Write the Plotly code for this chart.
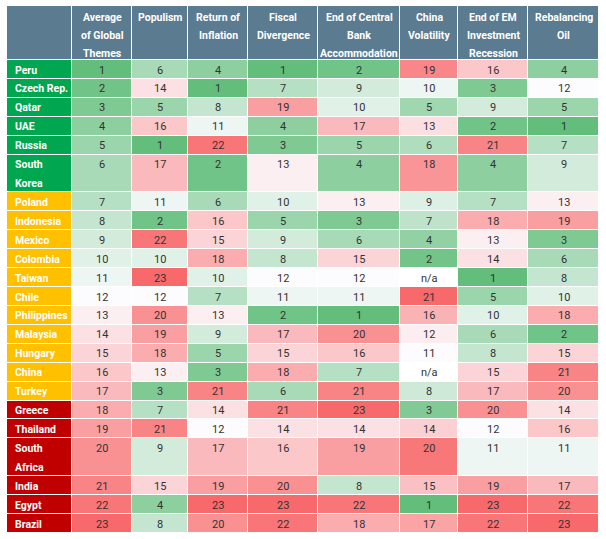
import plotly.graph_objects as go
import numpy as np

countries = ["Peru", "Czech Rep.", "Qatar", "UAE", "Russia", "South<br>Korea", "Poland",
             "Indonesia", "Mexico", "Colombia", "Taiwan", "Chile", "Philippines", "Malaysia",
             "Hungary", "China", "Turkey", "Greece", "Thailand", "South<br>Africa", "India",
             "Egypt", "Brazil"]
groups = [0] * 6 + [1] * 11 + [2] * 6

themes = ["Average<br>of Global<br>Themes", "Populism", "Return of<br>Inflation",
          "Fiscal<br>Divergence", "End of Central<br>Bank<br>Accommodation",
          "China<br>Volatility", "End of EM<br>Investment<br>Recession", "Rebalancing<br>Oil"]

average = [1, 2, 3, 4, 5, 6, 7, 8, 9, 10, 11, 12, 13, 14, 15, 16, 17, 18, 19, 20, 21, 22, 23]
populism = [6, 14, 5, 16, 1, 17, 11, 2, 22, 10, 23, 12, 20, 19, 18, 13, 3, 7, 21, 9, 15, 4, 8]
inflation = [4, 1, 8, 11, 22, 2, 6, 16, 15, 18, 10, 7, 13, 9, 5, 3, 21, 14, 12, 17, 19, 23, 20]
fiscal = [1, 7, 19, 4, 3, 13, 10, 5, 9, 8, 12, 11, 2, 17, 15, 18, 6, 21, 14, 16, 20, 23, 22]
central_bank = [2, 9, 10, 17, 5, 4, 13, 3, 6, 15, 12, 11, 1, 20, 16, 7, 21, 23, 14, 19, 8, 22, 18]
china_vol = [19, 10, 5, 13, 6, 18, 9, 7, 4, 2, None, 21, 16, 12, 11, None, 8, 3, 14, 20, 15, 1, 17]
em_invest = [16, 3, 9, 2, 21, 4, 7, 18, 13, 14, 1, 5, 10, 6, 8, 15, 17, 20, 12, 11, 19, 23, 22]
oil = [4, 12, 5, 1, 7, 9, 13, 19, 3, 6, 8, 10, 18, 2, 15, 21, 20, 14, 16, 11, 17, 22, 23]

columns = [average, populism, inflation, fiscal, central_bank, china_vol, em_invest, oil]

# ---- styling / geometry (pixels) ----
COL_W = [65, 60, 56, 60, 70, 82, 58, 70, 71]
HEADER_H = 54
UNIT_H = 18.92
HEADER_LINE = 18
FONT = "Roboto, Arial, sans-serif"
GROUP_COLORS = ["#00A650", "#FFC000", "#C00000"]
HEADER_COLOR = "#5B7B91"
LOW, MID, HIGH = "#63BE7B", "#FCFCFF", "#F8696B"

x_edges = list(np.concatenate([[0], np.cumsum(COL_W)]))
row_units = [c.count("<br>") + 1 for c in countries]
y_edges = [HEADER_H]
for u in row_units:
    y_edges.append(y_edges[-1] + u * UNIT_H)
total_h = y_edges[-1]
total_w = x_edges[-1]


def scaled(vals):
    v = [x for x in vals if x is not None]
    lo, md, hi = min(v), float(np.percentile(v, 50)), max(v)
    out = []
    for x in vals:
        if x is None:
            out.append(None)
        elif x <= md:
            out.append(-1 + (x - lo) / (md - lo))
        else:
            out.append((x - md) / (hi - md))
    return out


z_data = np.array([scaled(c) for c in columns], dtype=object).T.tolist()

fig = go.Figure()
# header band
fig.add_trace(go.Heatmap(
    x=x_edges, y=[0, HEADER_H], z=[[0] * len(COL_W)],
    colorscale=[[0, HEADER_COLOR], [1, HEADER_COLOR]], showscale=False,
    xgap=1, ygap=1, hoverinfo="skip"))
# country column
fig.add_trace(go.Heatmap(
    x=x_edges[:2], y=y_edges, z=[[g] for g in groups],
    colorscale=[[0, GROUP_COLORS[0]], [0.5, GROUP_COLORS[1]], [1, GROUP_COLORS[2]]],
    zmin=0, zmax=2, showscale=False, xgap=1, ygap=1, hoverinfo="skip"))
# data cells
fig.add_trace(go.Heatmap(
    x=x_edges[1:], y=y_edges, z=z_data,
    colorscale=[[0, LOW], [0.5, MID], [1, HIGH]], zmin=-1, zmax=1,
    showscale=False, xgap=1, ygap=1, hoverinfo="skip"))

ann = []
# header labels
for j, t in enumerate(themes):
    xc = (x_edges[j + 1] + x_edges[j + 2]) / 2
    for k, line in enumerate(t.split("<br>")):
        ann.append(dict(x=xc, y=11 + HEADER_LINE * k, text="<b>%s</b>" % line,
                        showarrow=False, xanchor="center", yanchor="middle",
                        font=dict(family=FONT, size=10.5, color="white")))
# country labels
for i, c in enumerate(countries):
    for k, line in enumerate(c.split("<br>")):
        ann.append(dict(x=x_edges[0] + 6, y=y_edges[i] + 10 + UNIT_H * k,
                        text="<b>%s</b>" % line, showarrow=False,
                        xanchor="left", yanchor="middle",
                        font=dict(family=FONT, size=10.5, color="white")))
# values
for j, col in enumerate(columns):
    xc = (x_edges[j + 1] + x_edges[j + 2]) / 2
    for i, v in enumerate(col):
        ann.append(dict(x=xc, y=y_edges[i] + 10,
                        text="n/a" if v is None else str(v), showarrow=False,
                        xanchor="center", yanchor="middle",
                        font=dict(family=FONT, size=11, color="#333333")))

fig.update_layout(
    width=606, height=539,
    margin=dict(l=7, r=606 - 7 - total_w, t=6, b=539 - 6 - total_h, pad=0),
    paper_bgcolor="white", plot_bgcolor="white",
    annotations=ann,
    xaxis=dict(range=[0, total_w], showgrid=False, zeroline=False,
               showticklabels=False, ticks="", fixedrange=True),
    yaxis=dict(range=[total_h, 0], showgrid=False, zeroline=False,
               showticklabels=False, ticks="", fixedrange=True),
)
fig.write_html("out.html", config={"displayModeBar": False},
               post_script="document.body.style.margin='0';document.body.style.overflow='hidden';")
